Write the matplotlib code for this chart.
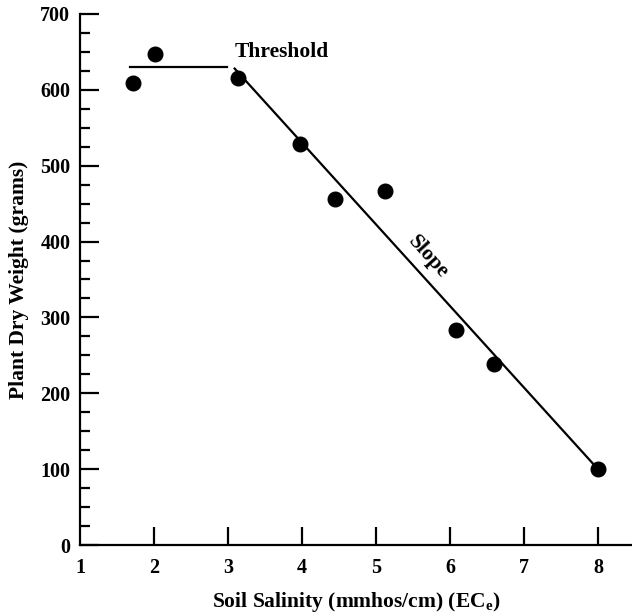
import matplotlib
matplotlib.use("Agg")
import matplotlib.pyplot as plt

plt.rcParams['font.family'] = ['Liberation Serif', 'DejaVu Serif']
plt.rcParams['font.weight'] = 'bold'
plt.rcParams['mathtext.fontset'] = 'custom'
plt.rcParams['mathtext.rm'] = 'Liberation Serif:bold'
plt.rcParams['mathtext.bf'] = 'Liberation Serif:bold'

# measured salinity vs dry weight
salinity = [1.72, 2.01, 3.13, 3.97, 4.44, 5.12, 6.08, 6.59, 8.0]
dry_weight = [609, 647, 616, 528, 456, 467, 284, 238, 100]

# threshold-slope response model
threshold_x = [1.68, 2.99]
threshold_y = [630, 630]
slope_x = [3.09, 8.0]
slope_y = [628, 100]

fig = plt.figure(figsize=(6.32, 6.15), dpi=100)
ax = fig.add_axes([0.1266, 0.1138, 0.8734, 0.8635])

ax.plot(threshold_x, threshold_y, color='black', lw=1.6)
ax.plot(slope_x, slope_y, color='black', lw=1.6)
ax.plot(salinity, dry_weight, 'o', color='black', markersize=10.5)

ax.text(3.09, 643, 'Threshold', fontsize=15.5, fontweight='bold', ha='left', va='baseline')
ax.text(5.70, 380, 'Slope', fontsize=15.5, fontweight='bold', rotation=-48,
        ha='center', va='center', rotation_mode='anchor')

ax.set_xlim(1, 8.46)
ax.set_ylim(0, 700)
ax.set_xticks([1, 2, 3, 4, 5, 6, 7, 8])
ax.set_yticks(range(0, 701, 100))
ax.set_yticks(range(0, 701, 25), minor=True)
# the origin has no x tick mark, only its label
ax.xaxis.get_major_ticks()[0].tick1line.set_visible(False)

for s in ['top', 'right']:
    ax.spines[s].set_visible(False)
for s in ['left', 'bottom']:
    ax.spines[s].set_linewidth(1.6)

ax.tick_params(axis='y', which='major', direction='in', length=13.5, width=1.6,
               pad=7, labelsize=14.5)
ax.tick_params(axis='y', which='minor', direction='in', length=7.5, width=1.6)
ax.tick_params(axis='x', which='major', direction='in', length=13, width=1.6,
               pad=9, labelsize=14.5)

ax.set_xlabel('Soil Salinity (mmhos/cm) (EC$_\\mathbf{e}$)', fontsize=15.5,
              fontweight='bold', labelpad=9)
ax.set_ylabel('Plant Dry Weight (grams)', fontsize=15.5, fontweight='bold', labelpad=8)

for lbl in ax.get_xticklabels() + ax.get_yticklabels():
    lbl.set_fontweight('bold')

fig.savefig('out.png', dpi=100)
